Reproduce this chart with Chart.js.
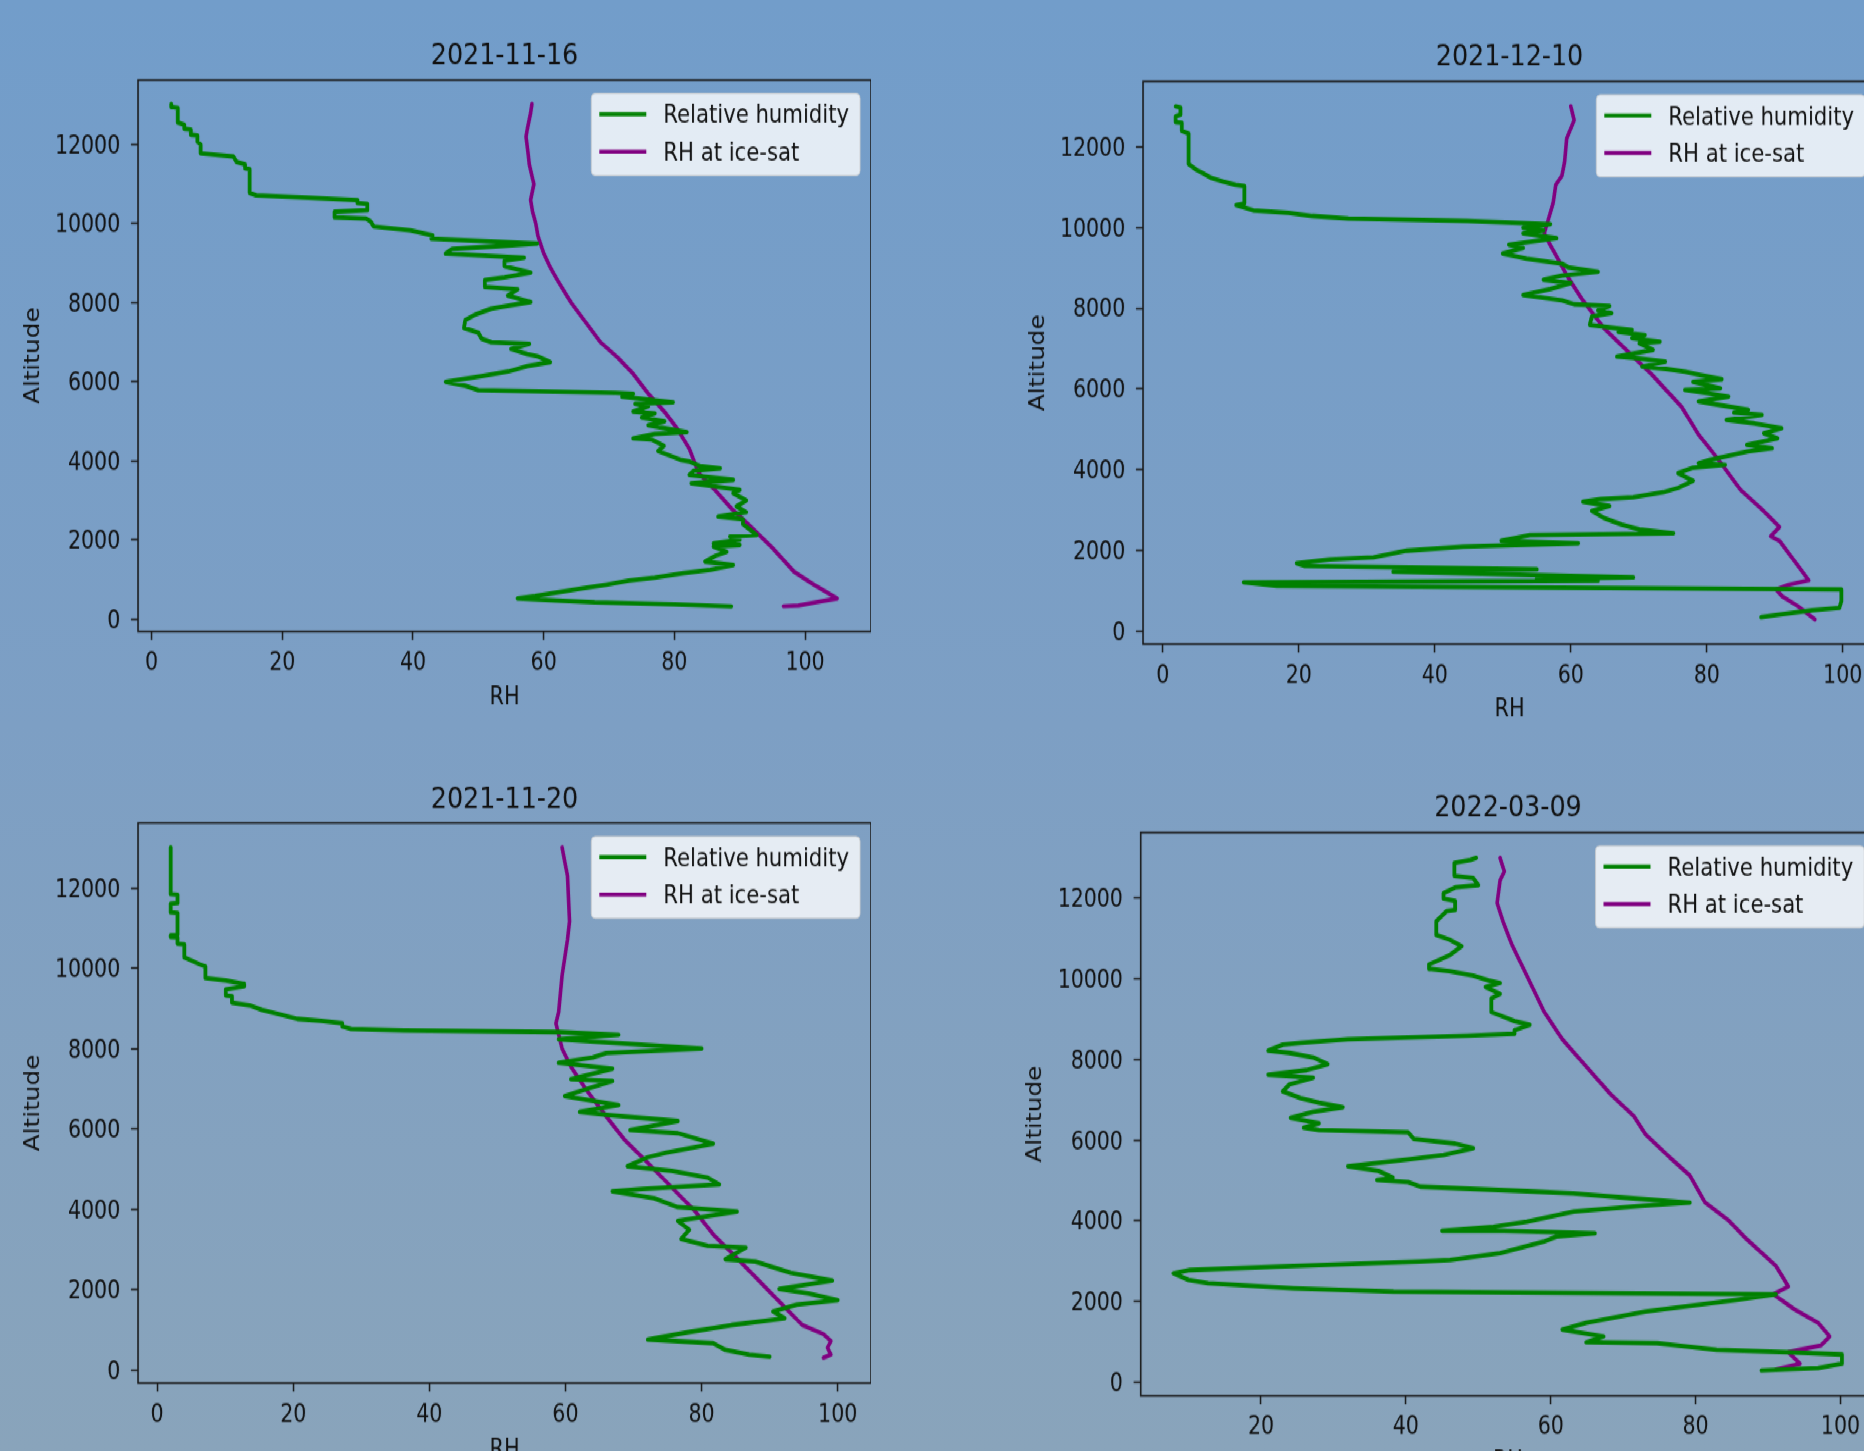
<!DOCTYPE html>
<html><head><meta charset="utf-8">
<script src="https://cdn.jsdelivr.net/npm/chart.js@4.4.1/dist/chart.umd.min.js"></script>
<style>
html,body{margin:0;padding:0;width:1864px;height:1451px;overflow:hidden;}
body{background:linear-gradient(180deg,#729dca 0%,#7d9fc4 50%,#89a4bb 100%);}
#fig{position:absolute;left:0;top:0;width:1864px;height:1220px;transform:scale(1,1.19);transform-origin:0 0;}
canvas{position:absolute;}
</style></head><body><div id="fig"></div><script>
// ---------------- data ----------------
const panelTitles = ['2021-11-16', '2021-12-10', '2021-11-20', '2022-03-09'];
const seriesLabels = ['Relative humidity', 'RH at ice-sat'];
const xAxisTitle = 'RH';
const yAxisTitle = 'Altitude';
const yTicks = [0, 2000, 4000, 6000, 8000, 10000, 12000];
const xTicksTL = [0, 20, 40, 60, 80, 100];
const xTicksTR = [0, 20, 40, 60, 80, 100];
const xTicksBL = [0, 20, 40, 60, 80, 100];
const xTicksBR = [20, 40, 60, 80, 100];

// 2021-11-16
const tlRH  = [3.0,3.0,4.0,4.0,5.0,5.0,6.0,6.0,7.0,7.0,7.5,7.5,12.5,13.0,14.3,14.3,15.0,15.0,16,24,31.5,31.5,33,33,28,28,32.8,33.5,34,39.6,43,42.8,59,52,46,45,57,54,54,58,54,51,51,56,54.5,58,52,49.5,48,47.8,50,50.5,52,57.8,55,57.5,59,61,57.5,54.6,50.5,45,48,50,71,
  73.7,72,79.8,74,76,73.7,77,75,78.5,76,81.9,77,73.7,76.5,78.4,77.5,80.9,82.4,83.9,87,83,82.3,89,82.6,90,89,91,89.5,91,86.7,90.5,90.5,92.6,88.5,90,86,90,86,88,86.3,84.7,89,85.5,
  81.4,77,73,69.6,66,63.2,58.7,56,62,67.8,80,88.7];
const tlAlt = [13030,12950,12930,12560,12500,12400,12380,12250,12230,12080,12000,11780,11700,11560,11500,11400,11380,10780,10720,10660,10600,10520,10500,10340,10300,10160,10130,10060,9930,9830,9700,9620,9500,9420,9360,9240,9140,9060,8930,8760,8640,8570,8400,8340,8180,8020,7850,7700,7560,7360,7240,7090,7000,6960,6830,6700,6650,6500,6400,6260,6140,6000,5900,5790,5720,
  5700,5620,5480,5440,5380,5250,5200,5100,5000,4900,4730,4680,4570,4540,4380,4250,4030,3980,3870,3810,3750,3645,3520,3430,3265,3180,3000,2850,2700,2590,2520,2400,2125,2085,2000,1915,1872,1830,1700,1600,1450,1365,1240,
  1160,1050,970,870,780,700,580,520,470,420,370,320];
const tlIceRH  = [58.2,58.0,57.5,57.3,57.6,57.8,58.5,58.0,58.3,58.8,59.1,60,61,62,64.2,66.9,68.7,71.4,73.7,76,78.7,80.5,82.3,83,83.7,86,88.7,91.9,95,98.3,101.5,104.9,101.5,99,96.7];
const tlIceAlt = [13030,12800,12400,12200,11800,11500,11000,10600,10300,10000,9700,9250,8900,8600,8000,7400,7000,6600,6200,5700,5200,4800,4300,4000,3700,3300,2800,2300,1800,1200,850,520,420,340,320];

// 2021-12-10
const trRH  = [1.9,2.6,2.6,1.9,1.9,2.8,2.8,3.8,3.8,5,5.9,7.2,8.9,10.7,12,12,10.8,13.3,18.5,22,27.3,44.8,57,53,56,53,57.9,50.9,53,50,53.5,58.7,59.6,64,58.7,56,60,57,53,58.7,60.5,65.7,
  64,66,63.1,62.8,66,69,67,70.9,69,73.1,70.1,72.1,66.8,70,73.9,70.5,74,76.8,79,82.2,78,82,76.8,80,83.2,78.8,82,86.1,84,88.1,82.9,87,91,88.4,90.4,85.9,89.6,86,82.7,80.5,78.8,82.7,78,75.8,
  78,75.8,73.6,69.2,64.4,61.8,65.7,63.1,64.9,67.5,70.1,75.1,54,49.8,61.1,44.2,35.9,31,24.6,19.7,20.9,55,33.9,69.2,55,64,11.9,16.8,99.8,99.8,99.5,95.5,90.2,88];
const trAlt = [13010,12980,12800,12760,12620,12600,12400,12330,11580,11430,11350,11230,11140,11060,11030,10600,10560,10430,10370,10290,10230,10170,10090,10000,9930,9860,9740,9580,9500,9360,9230,9110,9020,8910,8810,8710,8630,8480,8330,8200,8100,8060,
  7950,7880,7800,7590,7520,7464,7420,7340,7260,7175,7134,6969,6804,6760,6680,6556,6500,6432,6350,6242,6180,6019,5978,5900,5813,5689,5600,5483,5420,5359,5235,5150,5029,4905,4781,4616,4533,4450,4327,4250,4162,4121,4050,3914,
  3730,3550,3440,3320,3270,3210,3100,2980,2800,2640,2520,2424,2382,2241,2176,2092,1994,1829,1779,1680,1614,1532,1473,1333,1300,1250,1209,1118,1030,745,573,516,400,344];
const trIceRH  = [60,60.5,59.4,59.1,58.7,57.8,57.4,56.6,56.1,57,58.3,59.6,61.8,64.9,68.4,71.9,76.3,78.8,81.5,85,88,90.7,89.4,90.7,95,92,90.2,91.1,93.3,95.9];
const trIceAlt = [13010,12665,12206,11633,11289,11060,10602,10143,9857,9570,9169,8768,8195,7507,6934,6361,5559,4871,4298,3496,3037,2579,2350,2235,1261,1146,1032,860,630,287];

// 2021-11-20
const blRH  = [2.0,2.0,3.0,3.0,2.0,2.0,3.0,3.0,2.0,2.0,3.0,3.0,4.0,4.0,4.9,6.2,7.1,7.1,10.1,12.8,12.8,10.1,10.1,11,11,13.6,15.4,18,20.6,24.1,27.2,27.2,28.5,36.3,59,67.8,59,64.3,80,66,64,59,66.9,60.8,66.9,59.9,67.8,62.1,66.5,76.5,69.5,76.5,81.7,74.8,72.1,69.1,75.6,80.9,82.6,71.3,66.9,73,76.5,85.2,76.5,78.2,77,80.9,86.5,83.5,87.9,93.1,99.2,91.4,95.7,100,94,90.5,92.2,84.4,78.3,72.1,81.7,83.5,87,90];
const blAlt = [13017,11853,11840,11630,11620,11400,11390,10840,10830,10790,10780,10620,10600,10280,10215,10110,10050,9763,9706,9620,9560,9480,9330,9310,9150,9085,8972,8859,8746,8700,8640,8560,8500,8463,8420,8350,8237,8181,8011,7898,7785,7650,7503,7243,7200,6825,6599,6429,6350,6203,5977,5900,5638,5412,5299,5073,4960,4791,4621,4508,4452,4282,4056,3944,3718,3492,3266,3096,3050,2757,2701,2418,2226,2023,1910,1740,1627,1458,1288,1119,949,757,667,497,384,328];
const blIceRH  = [59.5,60.3,60.6,60.3,59.5,59,58.6,59.5,60.8,63,66,68.6,71.3,73.9,76.5,79.1,81.7,84.4,87,89.6,92.2,94.8,97.9,99,98.5,99,97.9];
const blIceAlt = [13017,12305,11175,10723,9819,8915,8633,8011,7559,6994,6316,5751,5299,4847,4395,3944,3379,2927,2475,2023,1571,1119,893,723,554,384,305];

// 2022-03-09
const brRH  = [49.7,48.9,46.7,46.7,49.3,50,46.8,45.2,45.2,46.8,46.8,45.6,44.2,44.2,46,47.7,46,43.2,43.2,46,49.3,51.4,53,51,53,51.8,51.8,53.4,55,57.1,55,55,48.5,32,25.5,23,21,23.9,27.2,29.2,26.3,21,27.2,23.9,23,25.5,28,31.3,27.2,24.1,28,25.9,28,40.3,41.1,46.8,49.3,45.2,40.3,32,36.2,38.2,36,40.3,42,56.7,63.1,71.4,79.2,73,63.2,56.7,52.1,45,52,66.1,60.8,59,53,46.1,41.9,22.2,10.2,7.9,10,12.7,24.5,38.3,72.3,91.1,85.4,73.1,64.9,61.6,67.3,64.9,74.7,82.9,92.8,100.2,100.2,96.9,89.1];
const brAlt = [13003,12950,12880,12553,12500,12328,12270,12126,11991,11935,11710,11680,11429,11091,10979,10810,10585,10360,10248,10191,10079,9966,9900,9800,9629,9516,9179,9066,8954,8864,8729,8639,8594,8504,8414,8369,8223,8167,8054,7885,7739,7627,7548,7379,7210,7042,6929,6817,6704,6558,6423,6310,6254,6198,6029,5917,5804,5636,5523,5354,5242,5073,5014,4961,4848,4736,4683,4560,4454,4380,4229,3980,3856,3749,3760,3692,3611,3484,3196,3030,2992,2864,2782,2700,2534,2452,2328,2244,2200,2182,2036,1755,1474,1305,1136,990,967,799,742,686,461,349,292];
const brIceRH  = [53,53.6,53,52.6,53.4,54.6,56.7,59.1,61.6,64.9,68.2,71.5,73.1,76.4,79.2,81.3,84.6,87,91.1,92.8,90.7,93.6,96.9,98.5,97.3,92.8,94.4,91.1];
const brIceAlt = [13003,12666,12441,11879,11429,10866,10079,9179,8504,7829,7154,6592,6142,5579,5129,4454,4005,3555,2880,2373,2182,1811,1474,1136,911,742,461,315];

// ---------------- layout (figure pixels) ----------------
const S = 1.19;            // vertical stretch of the figure
const TXT_SHIFT = 2.0;     // centre glyphs on their anchor
const FONT = '"DejaVu Sans", "Liberation Sans", sans-serif';
const panels = [
  {title: panelTitles[0], rh: tlRH, alt: tlAlt, iceRH: tlIceRH, iceAlt: tlIceAlt, xTicks: xTicksTL,
   xMin: -2.08, xMax: 110.1, yMin: -316, yMax: 13635, L: 138, R: 871, T: 80, B: 631.5, tMid: 53.5},
  {title: panelTitles[1], rh: trRH, alt: trAlt, iceRH: trIceRH, iceAlt: trIceAlt, xTicks: xTicksTR,
   xMin: -2.9, xMax: 104.9, yMin: -320, yMax: 13627, L: 1143, R: 1876, T: 81.4, B: 644, tMid: 55},
  {title: panelTitles[2], rh: blRH, alt: blAlt, iceRH: blIceRH, iceAlt: blIceAlt, xTicks: xTicksBL,
   xMin: -2.8, xMax: 104.9, yMin: -324, yMax: 13627, L: 138, R: 871, T: 823, B: 1383, tMid: 797.8},
  {title: panelTitles[3], rh: brRH, alt: brAlt, iceRH: brIceRH, iceAlt: brIceAlt, xTicks: xTicksBR,
   xMin: 3.4, xMax: 104.8, yMin: -337, yMax: 13631, L: 1140.7, R: 1875.2, T: 832.5, B: 1395.8, tMid: 806.2}
];

const framePlugin = {
  id: 'frame',
  afterDatasetsDraw(chart) {
    const {ctx, chartArea: a} = chart;
    ctx.save();
    ctx.strokeStyle = '#1a1a1a';
    ctx.lineWidth = 1.6;
    ctx.strokeRect(a.left, a.top, a.right - a.left, a.bottom - a.top);
    ctx.restore();
  }
};

const legendPlugin = {
  id: 'mplLegend',
  afterDraw(chart) {
    const {ctx, chartArea: a} = chart;
    const ds = chart.data.datasets;
    ctx.save();
    ctx.font = '21.2px ' + FONT;
    const tw = Math.max(...ds.map(d => ctx.measureText(d.label).width));
    const w = 8 + 47 + 17 + tw + 11, h = 68.9;
    const right = a.right - 11, top = a.top + 11.3, left = right - w;
    ctx.beginPath();
    ctx.roundRect(left, top, w, h, 4);
    ctx.fillStyle = 'rgba(255,255,255,0.8)';
    ctx.fill();
    ctx.strokeStyle = 'rgba(204,204,204,0.8)';
    ctx.lineWidth = 1;
    ctx.stroke();
    ds.forEach((d, i) => {
      const y = top + 17.4 + i * 31.4;
      ctx.strokeStyle = d.borderColor;
      ctx.lineWidth = 3.4;
      ctx.beginPath();
      ctx.moveTo(left + 8, y);
      ctx.lineTo(left + 55, y);
      ctx.stroke();
      ctx.fillStyle = '#111';
      ctx.textBaseline = 'middle';
      ctx.textAlign = 'left';
      ctx.fillText(d.label, left + 72, y + TXT_SHIFT);
    });
    ctx.restore();
  }
};

function build(p) {
  const fig = document.getElementById('fig');
  const Tb = p.T / S, Bb = p.B / S, tm = p.tMid / S + TXT_SHIFT;
  const TF = 25.4, TLH = TF * 1.2;
  const YW0 = 117, XH = 66.4 + TXT_SHIFT;
  const x0 = Math.floor(p.L - YW0), YW = p.L - x0;
  const cw = Math.ceil(p.R - x0), padR = cw - (p.R - x0);
  const y0 = Math.floor(tm - TLH / 2);
  const tPadTop = tm - TLH / 2 - y0, tPadBot = Tb - tm - TLH / 2;
  const ch = Math.ceil(Bb + XH - y0), padB = ch - (Bb + XH - y0);
  const c = document.createElement('canvas');
  c.width = cw; c.height = ch;
  c.style.left = x0 + 'px'; c.style.top = y0 + 'px';
  c.style.width = cw + 'px'; c.style.height = ch + 'px';
  fig.appendChild(c);
  const zeroPad = s => { s.paddingLeft = 0; s.paddingRight = 0; s.paddingTop = 0; s.paddingBottom = 0; };
  new Chart(c, {
    type: 'line',
    data: {
      datasets: [
        {label: seriesLabels[0], data: p.rh.map((v, i) => ({x: v, y: p.alt[i]})),
         borderColor: '#008000', borderWidth: 3.8, pointRadius: 0, fill: false, tension: 0,
         borderJoinStyle: 'round', borderCapStyle: 'round'},
        {label: seriesLabels[1], data: p.iceRH.map((v, i) => ({x: v, y: p.iceAlt[i]})),
         borderColor: '#800080', borderWidth: 3.6, pointRadius: 0, fill: false, tension: 0,
         borderJoinStyle: 'round', borderCapStyle: 'round'}
      ]
    },
    options: {
      responsive: false, animation: false, devicePixelRatio: 1,
      layout: {padding: {left: 0, top: 0, right: padR, bottom: padB}},
      plugins: {
        legend: {display: false},
        tooltip: {enabled: false},
        title: {display: true, text: p.title, fullSize: false, color: '#111',
                font: {family: FONT, size: TF, weight: 'normal'},
                padding: {top: tPadTop, bottom: tPadBot}}
      },
      scales: {
        x: {
          type: 'linear', position: 'bottom', min: p.xMin, max: p.xMax,
          afterBuildTicks: s => { s.ticks = p.xTicks.map(v => ({value: v})); },
          afterFit: s => { s.height = XH; zeroPad(s); },
          grid: {display: true, drawOnChartArea: false, drawTicks: true, tickLength: 7.1, tickWidth: 1.5, tickColor: '#1a1a1a'},
          border: {display: false},
          ticks: {font: {family: FONT, size: 20.5}, color: '#111', padding: 5.7 + TXT_SHIFT, maxRotation: 0, autoSkip: false,
                  callback: v => String(v)},
          title: {display: true, text: xAxisTitle, color: '#111', font: {family: FONT, size: 20.8}, padding: {top: 0, bottom: 0}}
        },
        y: {
          type: 'linear', position: 'left', min: p.yMin, max: p.yMax,
          afterBuildTicks: s => { s.ticks = yTicks.map(v => ({value: v})); },
          afterFit: s => { s.width = YW; zeroPad(s); },
          grid: {display: true, drawOnChartArea: false, drawTicks: true, tickLength: 7.1, tickWidth: 1.5, tickColor: '#1a1a1a'},
          border: {display: false},
          // empty first line + small line height nudges each label down by TXT_SHIFT
          ticks: {font: {family: FONT, size: 20.5, lineHeight: (2 * TXT_SHIFT) + 'px'}, color: '#111', padding: 10.7, autoSkip: false,
                  callback: v => ['', String(v)]},
          title: {display: true, text: yAxisTitle, color: '#111', font: {family: FONT, size: 20.8}, padding: {top: 0, bottom: 0}}
        }
      }
    },
    plugins: [framePlugin, legendPlugin]
  });
}
panels.forEach(build);
</script></body></html>
